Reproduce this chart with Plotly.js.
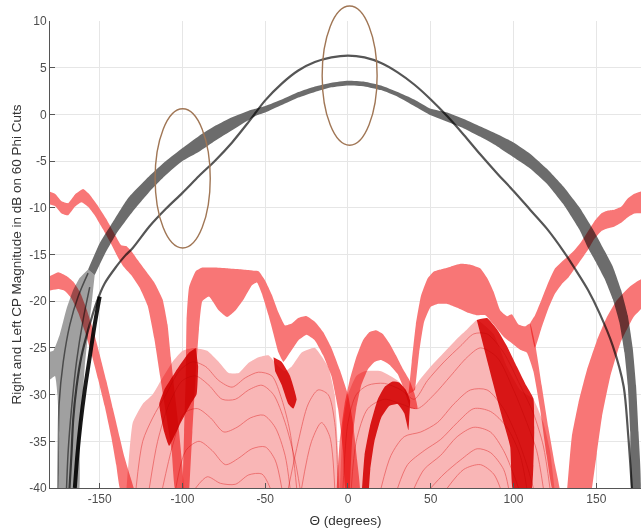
<!DOCTYPE html>
<html><head><meta charset="utf-8">
<script src="https://cdn.plot.ly/plotly-3.0.1.min.js"></script>
<style>
html,body{margin:0;padding:0;background:#fff;}
#chart .scatterlayer .trace{mix-blend-mode:multiply;}
</style>
</head><body><div id="chart" style="width:641px;height:528px;"></div>
<script>
// ---------- axis ticks ----------
const xTickVals = [-150,-100,-50,0,50,100,150];
const xTickText = ["-150","-100","-50","0","50","100","150"];
const yTickVals = [-40,-35,-30,-25,-20,-15,-10,-5,0,5,10];
const yTickText = ["-40","-35","-30","-25","-20","-15","-10","-5","0","5","10"];

// ---------- RHCP (gray) ----------
const rhcpBandTheta = [-157,-150,-143,-133,-120,-110,-100,-90,-80,-70,-60,-50,-40,-30,-20,-10,0,10,20,30,40,50,60,70,80,90,100,110,120,130,140,148,155,160,165,169,172,174,175.5,176.5,
  171.5,170.5,169,167,164,160,155,150,145,140,130,120,110,100,90,80,70,60,50,40,30,20,10,0,-10,-20,-30,-40,-50,-55,-60,-70,-80,-90,-100,-110,-120,-130,-140,-147,-153];
const rhcpBandDb = [-16.6,-13.8,-11.8,-9.0,-6.6,-5.0,-3.6,-2.3,-1.2,-0.3,0.4,0.9,1.6,2.4,3.0,3.4,3.6,3.5,3.1,2.4,1.6,0.6,0.2,-0.5,-1.3,-2.1,-3.0,-4.2,-5.8,-7.7,-10.0,-12.3,-14.6,-16.3,-18.8,-21.5,-25,-29,-34,-40.5,
  -40.5,-34,-29,-25.5,-22.3,-19.8,-17.6,-15.9,-14.3,-12.4,-9.6,-7.4,-5.8,-4.6,-3.4,-2.4,-1.5,-0.8,-0.1,0.9,1.9,2.6,3.0,3.1,2.9,2.4,1.8,1.0,0.2,-0.1,-0.6,-1.7,-2.8,-4.0,-5.0,-6.5,-8.3,-10.4,-12.8,-15.0,-17.2];
const rhcpFanTheta = [-157,-162,-166,-170,-174,-178,-181,-181,-177,-175.5,-174.5,-174,-163,-162,-160.5,-159,-157,-155,-153];
const rhcpFanDb = [-16.6,-17.5,-18.8,-20.8,-23.5,-25.3,-25.5,-28.5,-28,-30,-34,-41,-41,-36,-31,-27,-23.5,-20.5,-17.2];
const rhcpFanLine1Theta = [-157,-163,-168,-172,-174.5,-175,-175.2];
const rhcpFanLine1Db = [-17,-19.5,-22.5,-26.5,-31,-36,-40];
const rhcpFanLine2Theta = [-156,-160,-164,-167,-169,-170];
const rhcpFanLine2Db = [-18.5,-22,-26.5,-31.5,-36,-40];
const rhcpDenseTheta = [-150,-153,-156,-159,-161.5,-163.5,-165];
const rhcpDenseDb = [-19.5,-22.5,-26,-29.5,-33,-36.5,-40];
const rhcpThinTheta = [-168.2,-167,-166,-164,-161,-157,-152,-147,-140,-135,-130,-120,-110,-100,-90,-80,-70,-60,-50,-40,-30,-20,-10,0,10,20,30,40,50,60,70,80,90,100,110,120,130,137,145,152,160,166.5,169.3,171.5];
const rhcpThinDb = [-40,-36.3,-32.7,-29.2,-25.9,-23.1,-20.2,-18.1,-16.3,-15.2,-14.3,-12.0,-10.1,-8.4,-6.6,-4.9,-3.0,-0.8,1.5,3.3,4.7,5.6,6.1,6.3,6.1,5.5,4.5,3.2,1.6,-0.2,-2.2,-4.3,-6.3,-8.2,-10.2,-12.2,-14.6,-16.5,-18.8,-21.3,-24.8,-29.1,-34.4,-40];

// ---------- LHCP (red) ----------
const lhcpLeftTopTheta = [-181,-177,-173,-169,-165,-160,-156,-151,-146,-141,-137,-134,-131,-127,-122,-117,-112,-109,-107,-104.5,-102,-99.5,
  -104,-106.5,-110,-113.5,-117,-121,-126,-131,-136,-139,-143,-148,-153,-157,-161,-165,-169,-173,-177,-181];
const lhcpLeftTopDb = [-8.2,-8.5,-9.3,-9.5,-8.6,-8.0,-8.6,-9.8,-11.2,-12.8,-14.0,-14.1,-14.6,-15.6,-16.8,-18.0,-19.8,-22.5,-26,-30,-34,-40.5,
  -40.5,-36,-32,-28,-24,-20.5,-18.5,-17.2,-16.2,-15.3,-13.9,-12.3,-10.8,-9.9,-9.4,-9.9,-10.8,-10.6,-9.8,-9.6];
const lhcpLeftLowTheta = [-181,-175,-170,-166,-162,-158,-154,-150,-146,-142,-138,-135,-132,-129,
  -137,-140,-143,-147,-151,-155,-159,-163,-167,-171,-175,-181];
const lhcpLeftLowDb = [-17.4,-16.9,-17.3,-17.9,-19.0,-20.8,-23.0,-25.7,-28.5,-31.5,-34.5,-36.7,-38.5,-40.5,
  -40.5,-37.5,-34.5,-31.2,-28.3,-25.6,-23.2,-21.2,-19.7,-18.9,-18.7,-18.9];
const lhcpPlateauTheta = [-100,-99,-98,-97.5,-96,-92,-88,-80,-72,-64,-58,-54,-50,-46,-42,-38,-34,-30,-25,-20,-15,-10,-5,0,3,5.5,7,
  -1,-3,-6,-10,-15,-20,-25,-30,-35,-39,-42,-45,-48,-52,-55,-58,-63,-68,-73,-78,-84,-88,-90,-92,-94,-96];
const lhcpPlateauDb = [-40.5,-34,-28,-22,-18.5,-16.8,-16.4,-16.4,-16.5,-16.6,-16.7,-16.8,-17.8,-19.3,-21.2,-22.6,-22.4,-21.8,-21.6,-22.2,-23.3,-25.0,-27.3,-30.0,-33,-37,-40.5,
  -40.5,-36,-31.5,-28,-25.8,-24.2,-23.6,-24.2,-25.5,-26.5,-25.5,-23.5,-21.5,-19.2,-18.0,-18.3,-19.8,-21.0,-21.7,-21.0,-19.5,-20.0,-23,-28,-34,-40.5];
const lhcpBumpTheta = [-7,-5,-2,1,5,9,13,17,21,25,29,33,37,40,42,38,34,30,25,20,16,12,8,5,2.5,1];
const lhcpBumpDb = [-40.5,-35,-31,-28.5,-26,-24.2,-23.3,-23.1,-23.5,-24.5,-25.8,-27.2,-28.4,-29.8,-31.5,-31.5,-29.5,-27.8,-26.8,-26.3,-26.5,-27.3,-29,-31.5,-35,-40.5];
const lhcpRightPlateauTheta = [36.5,38.5,41,44,48,52,56,62,68,74,80,84,88,92,96,99,103,107,110,113,117,121,125,128,
  124,120,116,112,108,104,99,94,88,83,78,72,66,60,54,50,46,43,40.5];
const lhcpRightPlateauDb = [-30,-26.5,-22.5,-19.5,-17.6,-16.8,-16.6,-16.3,-16.0,-16.1,-16.5,-17.5,-19.0,-21.0,-21.6,-21.4,-22.5,-22.7,-22.4,-24.5,-29,-33.5,-37.5,-40.5,
  -40.5,-36.5,-31.5,-27.5,-25.5,-25.2,-24.5,-23.8,-22.5,-21.5,-21.5,-21.2,-20.7,-20.3,-20.3,-20.6,-22.2,-25.5,-29.5];
const lhcpRightTopTheta = [178,173,169,165,161,157,153,149,145,141,137,133,129,125,121,117,113,110,
  113,117,121,125,129,133,137,141,145,149,153,157,161,165,169,173,178];
const lhcpRightTopDb = [-8.2,-8.5,-9.0,-9.9,-10.2,-10.3,-10.6,-11.4,-12.5,-13.6,-14.5,-15.2,-15.8,-16.5,-18.0,-19.8,-21.5,-22.4,
  -25,-22.8,-20.8,-19.2,-18.2,-17.5,-16.5,-15.5,-14.5,-13.3,-12.5,-12.2,-12.0,-11.6,-11.0,-10.6,-10.6];
const lhcpRightLowTheta = [132.2,135.2,139.2,144.3,150.4,156.4,162.4,170.5,178,178,172.5,164.5,158.4,153.4,150.3,147];
const lhcpRightLowDb = [-40.5,-34.5,-30.9,-27.4,-24.2,-21.7,-19.9,-18.4,-17.6,-20.6,-21.7,-24.5,-28.1,-32.4,-36.3,-40.5];
// dense (dark) groups of cuts
const lhcpDark1Theta = [-92,-96,-104,-111,-114,-111,-108,-101,-95,-91.5,-90.5];
const lhcpDark1Db = [-25,-25.5,-27.5,-29.5,-31,-34,-35.5,-33,-31,-30,-27];
const lhcpDark2Theta = [-45,-40,-35,-31,-33,-36,-40,-44];
const lhcpDark2Db = [-26,-26.5,-28,-30.5,-31.5,-31,-29,-27.5];
const lhcpDark3Theta = [8.3,10,13.3,18,22,27,31,35,37.5,37,36.5,34,30,25,20,16,13.5,12.5];
const lhcpDark3Db = [-40.5,-36.5,-33.4,-30.5,-29.2,-28.6,-28.7,-29.5,-30.6,-32.5,-33.8,-32,-31,-31.2,-32.5,-35,-38,-40.5];
const lhcpDark4Theta = [77.8,84,90,96,102,107,112,112.5,112,110.5,100,98,94,90,85,80];
const lhcpDark4Db = [-22,-21.8,-23,-24.8,-27,-28.8,-30.4,-34,-37.6,-40.5,-40.5,-35.6,-33,-30.4,-27,-23.5];
// mesh envelopes
const lhcpMeshLeftTheta = [-134,-130,-124,-118,-113,-106,-100,-93,-85,-78,-72,-66,-60,-54,-48,-43,-38,-34,-28,-20,-12,-8,-5];
const lhcpMeshLeftDb = [-40.5,-33,-31,-30,-28.5,-26.5,-25.3,-25.0,-25.3,-26.5,-27.7,-27.7,-26.6,-26.0,-25.8,-26.8,-27.5,-27,-25.5,-25,-27,-30,-40.5];
const lhcpMeshRightTheta = [-5,-3,0,5,10,20,30,37,43,50,58,66,72,78,88,96,104,112,118,122,125];
const lhcpMeshRightDb = [-40.5,-33,-30,-28,-27.5,-27.5,-28.5,-30,-28.5,-27,-25.5,-24,-23,-22,-23.5,-27,-29.5,-30.5,-33,-36,-40.5];
// individual cuts inside the mesh
const meshL1Theta = [-120,-115,-108,-100,-92,-84,-76,-68,-60,-52,-45,-38,-32,-29];
const meshL1Db = [-40,-35,-31,-28.5,-28,-29,-30.5,-30.5,-29.5,-29,-30,-33,-37,-40];
const meshL2Theta = [-112,-106,-99,-91,-83,-75,-67,-59,-51,-44,-38,-35];
const meshL2Db = [-40,-35.5,-32,-31.5,-32.5,-34,-33.5,-32.5,-32.2,-33.5,-36.5,-40];
const meshL3Theta = [-104,-98,-90,-82,-74,-66,-58,-50,-44,-40];
const meshL3Db = [-40,-36,-35,-36,-37.5,-36.8,-35.8,-35.6,-37,-40];
const meshL4Theta = [-92,-85,-77,-68,-60,-52,-47];
const meshL4Db = [-40,-38.8,-39.5,-39.6,-38.6,-38.5,-40];
const meshL5Theta = [-128,-124,-118,-110,-102,-94,-86,-78,-70,-62,-54,-46,-40,-35,-31];
const meshL5Db = [-40,-35,-32.5,-30,-27.5,-26.5,-27,-28.5,-29.2,-28.2,-27.6,-28,-30.5,-34,-40];
const meshL6Theta = [-36,-30,-24,-18,-12,-8,-6];
const meshL6Db = [-40,-35,-31,-29.5,-30,-33,-40];
const meshL7Theta = [-28,-22,-16,-11,-8];
const meshL7Db = [-40,-35,-33,-34.5,-40];
const meshR1Theta = [2,5,12,22,32,42,52,62,72,80,90,100,108,114,118];
const meshR1Db = [-40,-35,-31.5,-30.5,-31,-31.5,-30,-28,-26,-25,-26,-29.5,-33,-36,-40];
const meshR2Theta = [20,26,34,44,54,64,74,84,94,102,108,112];
const meshR2Db = [-40,-36.5,-34.5,-34,-33,-31,-29.5,-29.5,-31.5,-34.5,-37.5,-40];
const meshR3Theta = [40,46,56,66,76,86,94,100,103];
const meshR3Db = [-40,-38,-36.5,-34.5,-33.5,-34,-36,-38.5,-40];
const meshR4Theta = [60,70,80,88,92];
const meshR4Db = [-40,-38,-37.5,-38.5,-40];
const meshR5Theta = [-3,0,5,12,22,32,40,48,58,68,76,84,94,104,112,118,122];
const meshR5Db = [-40,-33,-30,-29,-28.8,-29.5,-30.5,-28.5,-26.5,-24.8,-23.5,-23.5,-25.5,-29,-32,-35.5,-40];
const meshR6Theta = [30,36,46,56,66,76,86,96,104,108];
const meshR6Db = [-40,-37.5,-36,-34.8,-33,-31.5,-31.8,-33.5,-36.5,-40];
const meshR7Theta = [50,58,68,78,86,94,97];
const meshR7Db = [-40,-38.5,-37,-35.8,-36.2,-38,-40];

// ---------- build traces ----------
const traces = [];
function region(th, db, fill){
  traces.push({x: th, y: db, type:'scatter', mode:'lines', fill:'toself', fillcolor: fill,
    line:{width:0, color: fill, shape:'spline', smoothing:0.4}, hoverinfo:'skip'});
}
function curve(th, db, color, w){
  traces.push({x: th, y: db, type:'scatter', mode:'lines',
    line:{width:w, color: color, shape:'spline', smoothing:0.8}, hoverinfo:'skip'});
}
const meshFill = 'rgb(249,182,182)';
const meshLine = 'rgb(240,135,135)';
const redBand = 'rgb(248,118,118)';
const darkRed = 'rgb(222,30,30)';
region(lhcpMeshLeftTheta, lhcpMeshLeftDb, meshFill);
region(lhcpMeshRightTheta, lhcpMeshRightDb, meshFill);
[[meshL1Theta,meshL1Db],[meshL2Theta,meshL2Db],[meshL3Theta,meshL3Db],[meshL4Theta,meshL4Db],
 [meshL5Theta,meshL5Db],[meshL6Theta,meshL6Db],[meshL7Theta,meshL7Db],
 [meshR1Theta,meshR1Db],[meshR2Theta,meshR2Db],[meshR3Theta,meshR3Db],[meshR4Theta,meshR4Db],
 [meshR5Theta,meshR5Db],[meshR6Theta,meshR6Db],[meshR7Theta,meshR7Db]].forEach(p=>curve(p[0],p[1],meshLine,0.8));
region(lhcpLeftTopTheta, lhcpLeftTopDb, redBand);
region(lhcpLeftLowTheta, lhcpLeftLowDb, redBand);
region(lhcpPlateauTheta, lhcpPlateauDb, redBand);
region(lhcpBumpTheta, lhcpBumpDb, redBand);
region(lhcpRightPlateauTheta, lhcpRightPlateauDb, redBand);
region(lhcpRightTopTheta, lhcpRightTopDb, redBand);
region(lhcpRightLowTheta, lhcpRightLowDb, redBand);
region(lhcpDark1Theta, lhcpDark1Db, darkRed);
region(lhcpDark2Theta, lhcpDark2Db, darkRed);
region(lhcpDark3Theta, lhcpDark3Db, darkRed);
region(lhcpDark4Theta, lhcpDark4Db, darkRed);

region(rhcpFanTheta, rhcpFanDb, 'rgb(160,160,160)');
curve(rhcpFanLine1Theta, rhcpFanLine1Db, 'rgb(120,120,120)', 1.5);
curve(rhcpFanLine2Theta, rhcpFanLine2Db, 'rgb(120,120,120)', 1.5);
region(rhcpBandTheta, rhcpBandDb, 'rgb(108,108,108)');
curve(rhcpThinTheta, rhcpThinDb, 'rgb(85,85,85)', 2.2);
curve(rhcpDenseTheta, rhcpDenseDb, 'rgb(25,25,25)', 4);

// ---------- layout ----------
const xRange = [-180, 177], yRange = [-40, 10];
const px = t => (t - xRange[0]) / (xRange[1] - xRange[0]);
const py = d => (d - yRange[0]) / (yRange[1] - yRange[0]);
const ellColor = 'rgb(160,118,85)';
const shapes = [
  {type:'circle', xref:'paper', yref:'paper', x0:px(-116.5), x1:px(-83.2), y0:py(-14.3), y1:py(0.6), line:{color:ellColor, width:1.4}},
  {type:'circle', xref:'paper', yref:'paper', x0:px(-15.6), x1:px(17.6), y0:py(-3.3), y1:py(11.6), line:{color:ellColor, width:1.4}}
];
const fontFam = 'Liberation Sans, Arial, Helvetica, sans-serif';
const layout = {
  width:641, height:528, showlegend:false,
  margin:{l:50, r:0, t:21, b:40},
  paper_bgcolor:'#fff', plot_bgcolor:'#fff',
  font:{family:fontFam, size:12, color:'#4d4d4d'},
  xaxis:{range:xRange, tickvals:xTickVals, ticktext:xTickText, ticks:'inside', ticklen:5, tickcolor:'#555',
    showgrid:true, gridcolor:'#e6e6e6', gridwidth:1, zeroline:false, showline:true, linecolor:'#555', linewidth:1,
    tickfont:{size:12, color:'#4d4d4d'},
    title:{text:'\u0398 (degrees)', font:{size:13.5, color:'#333'}, standoff:10}},
  yaxis:{range:yRange, tickvals:yTickVals, ticktext:yTickText, ticks:'inside', ticklen:5, tickcolor:'#555',
    showgrid:true, gridcolor:'#e6e6e6', gridwidth:1, zeroline:false, showline:true, linecolor:'#555', linewidth:1,
    tickfont:{size:12, color:'#4d4d4d'},
    title:{text:'Right and Left CP Magnitude in dB on 60 Phi Cuts', font:{size:13.5, color:'#333'}, standoff:4}},
  shapes: shapes
};
Plotly.newPlot('chart', traces, layout, {staticPlot:true, displayModeBar:false});
</script></body></html>
